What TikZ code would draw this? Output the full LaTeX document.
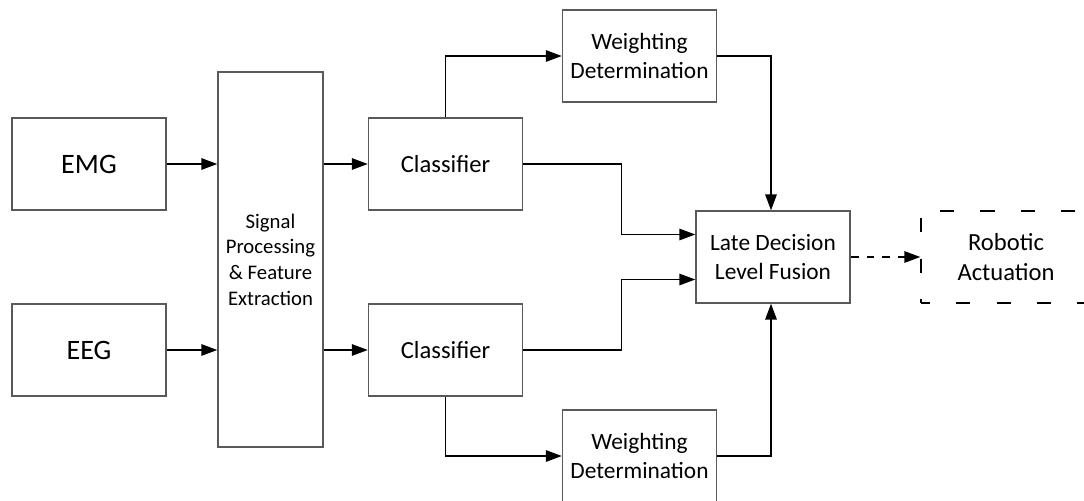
\documentclass[tikz,border=0pt]{standalone}
\usepackage{fontspec}
\setmainfont{Carlito}
\usepackage{xcolor}
\usepackage{tikz}
\usetikzlibrary{arrows.meta, positioning}
\definecolor{boxgray}{rgb}{0.35, 0.35, 0.35}
\tikzstyle{block} = [draw=boxgray, line width=0.8pt, fill=white, minimum width=3.08cm, minimum height=1.84cm, align=center, inner sep=1pt]
\tikzstyle{arrow} = [line width=0.8pt, -{Triangle[length=9pt,width=6.5pt]}]

\begin{document}
\begin{tikzpicture}[font=\fontsize{14}{17}\selectfont, tall/.style={block, minimum width=2.1cm, minimum height=7.5cm, font=\fontsize{11.8}{14.6}\selectfont}, small/.style={font=\fontsize{13.3}{16.5}\selectfont}]
    \useasboundingbox (0,0) rectangle (21.68,-10.02);
    % inputs
    \node[block, font=\fontsize{16}{19}\selectfont] (emg) at (1.78,-3.28) {EMG};
    \node[block, font=\fontsize{16}{19}\selectfont] (eeg) at (1.78,-7.0) {EEG};
    \node[tall] (sp) at (5.41,-5.19) {Signal\\ Processing\\ \& Feature\\ Extraction};
    % classifiers and weights
    \node[block] (clsa) at (8.91,-3.28) {Classifier};
    \node[block] (clsb) at (8.91,-7.0) {Classifier};
    \node[block, small] (wa) at (12.79,-1.12) {Weighting\\ Determination};
    \node[block, small] (wb) at (12.79,-9.12) {Weighting\\ Determination};
    \node[block, small] (fus) at (15.46,-5.14) {Late Decision\\ Level Fusion};
    \node[block, draw=black, dash pattern=on 8pt off 15pt, dash phase=3pt, minimum width=3.4cm] (rob) at (20.12,-5.14) {Robotic\\ Actuation};
    % connectors
    \draw[arrow] (emg.east) -- (emg.east -| sp.west);
    \draw[arrow] (eeg.east) -- (eeg.east -| sp.west);
    \draw[arrow] (sp.east |- clsa) -- (clsa.west);
    \draw[arrow] (sp.east |- clsb) -- (clsb.west);
    \draw[arrow] (clsa.north) |- (wa.west);
    \draw[arrow] (clsb.south) |- (wb.west);
    \draw[arrow] (clsa.east) -- ++(1.96,0) |- ([yshift=0.45cm]fus.west);
    \draw[arrow] (clsb.east) -- ++(1.96,0) |- ([yshift=-0.45cm]fus.west);
    \draw[arrow] (wa.east) -| ([xshift=-0.04cm]fus.north);
    \draw[arrow] (wb.east) -| ([xshift=-0.04cm]fus.south);
    \draw[arrow, dash pattern=on 4.5pt off 4.5pt] (fus.east) -- (rob.west);
\end{tikzpicture}
\end{document}
